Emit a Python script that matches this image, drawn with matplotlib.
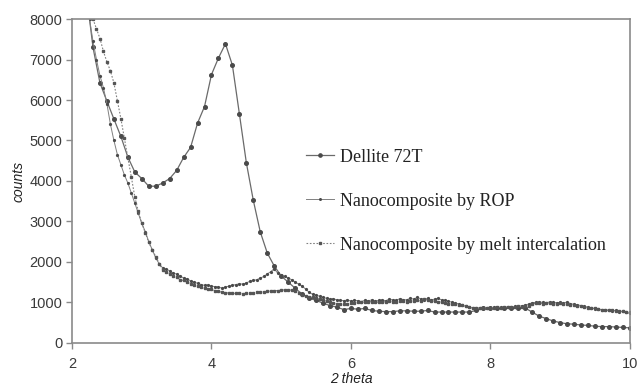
import numpy as np
import matplotlib
matplotlib.use("Agg")
import matplotlib.pyplot as plt

# ---- data ----
dellite_x = [2.2, 2.3, 2.4, 2.5, 2.6, 2.7, 2.8, 2.9, 3.0, 3.1, 3.2, 3.3, 3.4, 3.5, 3.6, 3.7, 3.8, 3.9,
             4.0, 4.1, 4.2, 4.3, 4.4, 4.5, 4.6, 4.7, 4.8, 4.9, 5.0, 5.1, 5.2, 5.3, 5.4, 5.5, 5.6, 5.7,
             5.8, 5.9, 6.0, 6.1, 6.2, 6.3, 6.4, 6.5, 6.6, 6.7, 6.8, 6.9, 7.0, 7.1, 7.2, 7.3, 7.4, 7.5,
             7.6, 7.7, 7.8, 7.9, 8.0, 8.1, 8.2, 8.3, 8.4, 8.5, 8.6, 8.7, 8.8, 8.9, 9.0, 9.1, 9.2, 9.3,
             9.4, 9.5, 9.6, 9.7, 9.8, 9.9, 10.0]
dellite_y = [8700, 7300, 6420, 5970, 5530, 5100, 4590, 4220, 4060, 3870, 3870, 3950, 4060, 4260, 4580,
             4830, 5430, 5840, 6630, 7040, 7390, 6860, 5660, 4450, 3520, 2740, 2220, 1900, 1650, 1500,
             1350, 1200, 1100, 1050, 980, 920, 880, 820, 850, 830, 850, 800, 780, 770, 770, 790, 790,
             780, 780, 800, 760, 760, 760, 760, 760, 760, 800, 850, 860, 860, 870, 870, 860, 860, 760,
             660, 600, 540, 500, 470, 460, 440, 430, 410, 400, 400, 390, 380, 370]

rop_x = np.round(np.arange(2.25, 10.001, 0.05), 2)
rop_y = [8000, 7450, 7000, 6600, 6300, 5900, 5400, 5000, 4650, 4400, 4150, 3950, 3700, 3450, 3200,
         2950, 2750, 2500, 2300, 2100, 1950, 1850, 1820, 1780, 1720, 1700, 1650, 1600, 1580, 1530,
         1500, 1470, 1440, 1420, 1430, 1400, 1390, 1380, 1350, 1380, 1400, 1420, 1440, 1460, 1450,
         1480, 1520, 1540, 1560, 1600, 1640, 1700, 1760, 1830, 1720, 1680, 1640, 1600, 1560, 1500,
         1450, 1400, 1330, 1250, 1200, 1180, 1150, 1120, 1100, 1080, 1090, 1060, 1050, 1040, 1060,
         1030, 1050, 1040, 1020, 1050, 1040, 1060, 1030, 1050, 1060, 1040, 1080, 1060, 1050, 1090,
         1070, 1060, 1100, 1080, 1120, 1090, 1070, 1100, 1060, 1080, 1100, 1060, 1050, 1030, 1000,
         980, 960, 930, 900, 880, 860, 850, 860, 850, 870, 860, 880, 870, 880, 870, 890, 880, 900,
         890, 920, 930, 960, 990, 1000, 1010, 1000, 990, 1010, 1000, 990, 1000, 980, 1010, 970, 950,
         940, 920, 900, 880, 860, 840, 830, 810, 820, 800, 790, 800, 770, 780, 750, 730]

melt_x = np.round(np.arange(2.3, 10.001, 0.05), 2)
melt_y = [8000, 7760, 7520, 7200, 6940, 6720, 6420, 5980, 5540, 5050, 4570, 4100, 3600, 3250, 2950,
          2720, 2480, 2300, 2130, 1960, 1800, 1740, 1700, 1660, 1620, 1560, 1540, 1500, 1460, 1420,
          1400, 1370, 1350, 1330, 1320, 1290, 1270, 1250, 1240, 1230, 1220, 1220, 1230, 1210, 1230,
          1240, 1240, 1250, 1260, 1260, 1270, 1280, 1290, 1290, 1300, 1310, 1310, 1300, 1270, 1230,
          1180, 1150, 1130, 1120, 1100, 1080, 1050, 1030, 1000, 980, 960, 950, 950, 960, 980, 990,
          1000, 1010, 1000, 1010, 1020, 1000, 1010, 1020, 1010, 1030, 1020, 1010, 1030, 1040, 1020,
          1030, 1040, 1050, 1040, 1080, 1060, 1040, 1030, 1020, 1000, 980, 970, 960, 950, 940, 930,
          900, 880, 860, 850, 860, 860, 870, 870, 860, 880, 870, 880, 890, 880, 890, 900, 890, 900,
          920, 950, 980, 990, 970, 980, 990, 970, 960, 980, 960, 950, 940, 930, 910, 900, 880, 870,
          860, 850, 830, 820, 810, 800, 800, 790, 780, 780, 760, 750]

series_labels = ["Dellite 72T", "Nanocomposite by ROP", "Nanocomposite by melt intercalation"]
x_ticks = [2, 4, 6, 8, 10]
y_ticks = [0, 1000, 2000, 3000, 4000, 5000, 6000, 7000, 8000]

# ---- figure ----
fig = plt.figure(figsize=(6.38, 3.90), dpi=100)
ax = fig.add_axes([0.113, 0.121, 0.874, 0.830])

ax.plot(dellite_x, dellite_y, color="#6a6a6a", lw=0.9, marker="o", ms=2.6,
        mfc="#4a4a4a", mec="#4a4a4a", label=series_labels[0])
ax.plot(rop_x, rop_y[:len(rop_x)], color="#808080", lw=0.7, marker="o", ms=1.3,
        mfc="#4a4a4a", mec="#4a4a4a", label=series_labels[1])
ax.plot(melt_x, melt_y[:len(melt_x)], color="#808080", lw=0.8, ls=(0, (1.5, 1.5)), marker="s",
        ms=1.6, mfc="#555555", mec="#555555", label=series_labels[2])

ax.set_xlim(2, 10)
ax.set_ylim(0, 8000)
ax.set_xticks(x_ticks)
ax.set_yticks(y_ticks)
for s in ax.spines.values():
    s.set_color("#8a8a8a")
    s.set_linewidth(1.2)
ax.tick_params(direction="out", length=4, width=1, color="#8a8a8a",
               labelsize=10.5, labelcolor="#3a3a3a", pad=3)
ax.tick_params(axis="x", pad=6)
for lab in ax.get_xticklabels() + ax.get_yticklabels():
    lab.set_family(["Liberation Sans", "DejaVu Sans"])

ax.set_xlabel("2 theta", fontsize=10, style="italic", family=["Liberation Sans", "DejaVu Sans"],
              color="#222222", labelpad=1)
ax.set_ylabel("counts", fontsize=10, style="italic", family=["Liberation Sans", "DejaVu Sans"],
              color="#222222", labelpad=3)

leg = ax.legend(loc="upper left", bbox_to_anchor=(0.419, 0.60), frameon=False,
                prop={"family": ["Liberation Serif", "DejaVu Serif"], "size": 13},
                handlelength=1.55, handletextpad=0.35, labelspacing=1.5,
                numpoints=1, borderpad=0, borderaxespad=0, markerscale=0.9)
for t in leg.get_texts():
    t.set_color("#222222")

fig.savefig("out.png", dpi=100)
